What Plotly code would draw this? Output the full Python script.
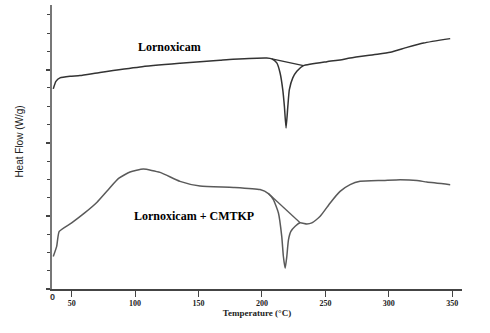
import plotly.graph_objects as go

# Lornoxicam DSC curve (temperature °C, heat flow arbitrary units)
lorn_temp = [35.5, 37.6, 40.8, 48.7, 56.5, 72.3, 103.9, 135.4, 151.2, 167.0, 177.2, 203.8,
             207.8, 211.7, 214.3, 216.4, 217.7, 219.0, 220.4, 221.6, 224.3, 227.5, 232.7,
             251.2, 261.6, 269.5, 287.9, 301.1, 314.3, 327.4, 348.4]
lorn_flow = [10.95, 11.36, 11.55, 11.64, 11.68, 11.85, 12.15, 12.35, 12.44, 12.52, 12.57, 12.64,
             12.59, 12.37, 11.82, 10.91, 9.99, 8.81, 9.99, 10.91, 11.55, 11.91, 12.22,
             12.44, 12.53, 12.64, 12.82, 12.95, 13.22, 13.46, 13.70]
lorn_base_temp = [207.8, 232.7]
lorn_base_flow = [12.59, 12.22]

# Lornoxicam + CMTKP DSC curve
mix_temp = [35.5, 38.2, 40.2, 50.0, 60.0, 70.0, 79.0, 87.0, 96.0, 106.5, 119.7, 135.4,
            151.2, 177.5, 198.5, 205.1, 209.0, 213.0, 215.6, 216.9, 218.3, 219.6, 220.9,
            222.8, 226.2, 230.1, 235.4, 239.3, 245.9, 253.8, 261.6, 269.5, 277.4, 295.8,
            309.0, 322.2, 330.0, 348.4]
mix_flow = [1.78, 2.33, 3.15, 3.62, 4.15, 4.75, 5.45, 6.05, 6.40, 6.56, 6.38, 5.89,
            5.63, 5.56, 5.44, 5.22, 4.89, 4.16, 2.88, 1.78, 1.13, 1.78, 2.69,
            3.15, 3.43, 3.62, 3.56, 3.62, 3.98, 4.71, 5.34, 5.71, 5.89, 5.94,
            5.98, 5.94, 5.85, 5.71]
mix_base_temp = [205.1, 230.1]
mix_base_flow = [5.22, 3.62]

x_ticks = [50, 100, 150, 200, 250, 300, 350]
x_ticklabels = ["50", "100", "150", "200", "250", "300", "350"]

fig = go.Figure()
line_upper = dict(color="#333333", width=1.5, shape="spline", smoothing=0.5)
line_lower = dict(color="#5a5a5a", width=1.5, shape="spline", smoothing=0.5)
fig.add_trace(go.Scatter(x=lorn_temp, y=lorn_flow, mode="lines", line=line_upper))
fig.add_trace(go.Scatter(x=lorn_base_temp, y=lorn_base_flow, mode="lines",
                         line=dict(color="#333333", width=1.3)))
fig.add_trace(go.Scatter(x=mix_temp, y=mix_flow, mode="lines", line=line_lower))
fig.add_trace(go.Scatter(x=mix_base_temp, y=mix_base_flow, mode="lines",
                         line=dict(color="#5a5a5a", width=1.3)))

serif = "Liberation Serif"
fig.add_annotation(x=127.5, y=13.26, text="<b>Lornoxicam</b>", showarrow=False,
                   font=dict(family=serif, size=12, color="#000"))
fig.add_annotation(x=146.6, y=3.97, text="<b>Lornoxicam + CMTKP</b>", showarrow=False,
                   font=dict(family=serif, size=12, color="#000"))
fig.add_annotation(xref="paper", yref="paper", x=0, y=0, xanchor="center", yanchor="middle",
                   xshift=0.5, yshift=-8, text="<b>0</b>", showarrow=False,
                   font=dict(family="Liberation Sans", size=9, color="#333"))
fig.add_annotation(xref="paper", yref="paper", x=-0.078, y=0.519, xanchor="center",
                   yanchor="middle", textangle=-90, text="Heat Flow (W/g)", showarrow=False,
                   font=dict(family="Liberation Sans", size=10, color="#222"))

fig.update_layout(
    width=490, height=333,
    margin=dict(l=52, r=28, t=5, b=44),
    paper_bgcolor="white", plot_bgcolor="white",
    showlegend=False,
    xaxis=dict(range=[34.5, 357.7], showgrid=False, zeroline=False,
               showline=True, linecolor="#444", linewidth=1.5,
               ticks="outside", ticklen=6, tickwidth=1.2, tickcolor="#444",
               tickvals=x_ticks, ticktext=["<b>%s</b>" % t for t in x_ticklabels],
               tickfont=dict(family=serif, size=8, color="#222"),
               title=dict(text="<b>Temperature (°C)</b>", standoff=2,
                          font=dict(family=serif, size=9, color="#222"))),
    yaxis=dict(range=[0, 15.54], showgrid=False, zeroline=False,
               showline=True, linecolor="#777", linewidth=2.2,
               ticks="outside", ticklen=4, tickwidth=1.5, tickcolor="#444",
               tick0=0, dtick=4, showticklabels=False,
               minor=dict(ticks="outside", ticklen=3, dtick=1, tickcolor="#444", tickwidth=1.2)),
)

fig.write_html("out.html")
